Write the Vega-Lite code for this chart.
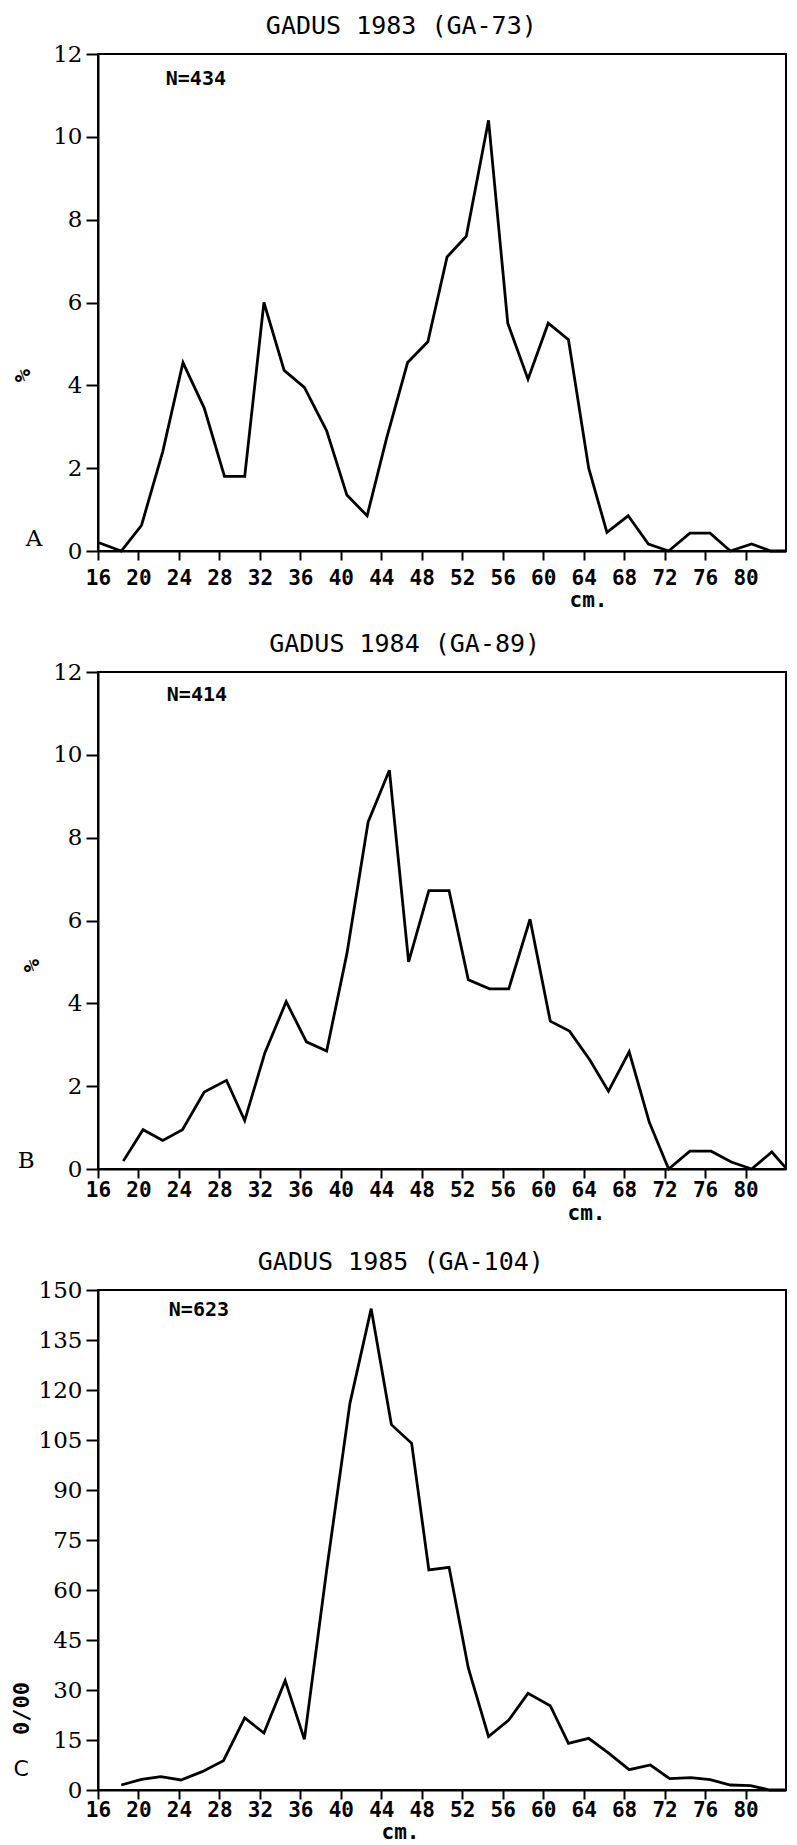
{
  "$schema": "https://vega.github.io/schema/vega-lite/v6.json",
  "background": "white",
  "padding": {"left": 9, "top": 13, "right": 0, "bottom": 0},
  "spacing": 121,
  "bounds": "flush",
  "datasets": {
    "gadus1983": [
      {"cm": 16.1, "pct": 0.2}, {"cm": 18.3, "pct": 0.0}, {"cm": 20.3, "pct": 0.62}, {"cm": 22.4, "pct": 2.4},
      {"cm": 24.4, "pct": 4.55}, {"cm": 26.5, "pct": 3.45}, {"cm": 28.5, "pct": 1.8}, {"cm": 30.5, "pct": 1.8},
      {"cm": 32.4, "pct": 6.0}, {"cm": 34.4, "pct": 4.36}, {"cm": 36.4, "pct": 3.95}, {"cm": 38.6, "pct": 2.9},
      {"cm": 40.6, "pct": 1.35}, {"cm": 42.6, "pct": 0.85}, {"cm": 44.5, "pct": 2.7}, {"cm": 46.6, "pct": 4.55},
      {"cm": 48.6, "pct": 5.05}, {"cm": 50.5, "pct": 7.1}, {"cm": 52.4, "pct": 7.6}, {"cm": 54.6, "pct": 10.4},
      {"cm": 56.5, "pct": 5.5}, {"cm": 58.5, "pct": 4.15}, {"cm": 60.5, "pct": 5.5}, {"cm": 62.5, "pct": 5.1},
      {"cm": 64.5, "pct": 2.0}, {"cm": 66.3, "pct": 0.45}, {"cm": 68.4, "pct": 0.85}, {"cm": 70.4, "pct": 0.17},
      {"cm": 72.4, "pct": 0.0}, {"cm": 74.5, "pct": 0.43}, {"cm": 76.5, "pct": 0.43}, {"cm": 78.5, "pct": 0.0},
      {"cm": 80.6, "pct": 0.17}, {"cm": 82.5, "pct": 0.0}, {"cm": 84.0, "pct": 0.0}
    ],
    "gadus1984": [
      {"cm": 18.5, "pct": 0.19}, {"cm": 20.45, "pct": 0.95}, {"cm": 22.4, "pct": 0.69}, {"cm": 24.35, "pct": 0.95},
      {"cm": 26.5, "pct": 1.86}, {"cm": 28.7, "pct": 2.14}, {"cm": 30.5, "pct": 1.17}, {"cm": 32.5, "pct": 2.81},
      {"cm": 34.6, "pct": 4.04}, {"cm": 36.6, "pct": 3.07}, {"cm": 38.6, "pct": 2.85}, {"cm": 40.6, "pct": 5.2},
      {"cm": 42.7, "pct": 8.38}, {"cm": 44.8, "pct": 9.63}, {"cm": 46.7, "pct": 5.0}, {"cm": 48.7, "pct": 6.72},
      {"cm": 50.7, "pct": 6.72}, {"cm": 52.6, "pct": 4.57}, {"cm": 54.7, "pct": 4.35}, {"cm": 56.6, "pct": 4.35},
      {"cm": 58.7, "pct": 6.03}, {"cm": 60.7, "pct": 3.57}, {"cm": 62.6, "pct": 3.33}, {"cm": 64.6, "pct": 2.64},
      {"cm": 66.45, "pct": 1.88}, {"cm": 68.5, "pct": 2.83}, {"cm": 70.5, "pct": 1.12}, {"cm": 72.4, "pct": 0.0},
      {"cm": 74.5, "pct": 0.43}, {"cm": 76.6, "pct": 0.43}, {"cm": 78.6, "pct": 0.17}, {"cm": 80.6, "pct": 0.0},
      {"cm": 82.6, "pct": 0.41}, {"cm": 84.0, "pct": 0.02}
    ],
    "gadus1985": [
      {"cm": 18.3, "permille": 1.5}, {"cm": 20.3, "permille": 3.2}, {"cm": 22.2, "permille": 4.0}, {"cm": 24.2, "permille": 3.0},
      {"cm": 26.3, "permille": 5.5}, {"cm": 28.4, "permille": 8.8}, {"cm": 30.5, "permille": 21.6}, {"cm": 32.4, "permille": 17.1},
      {"cm": 34.5, "permille": 32.8}, {"cm": 36.4, "permille": 15.2}, {"cm": 38.6, "permille": 66}, {"cm": 40.9, "permille": 116},
      {"cm": 43.0, "permille": 144.4}, {"cm": 45.0, "permille": 109.6}, {"cm": 47.0, "permille": 104}, {"cm": 48.7, "permille": 66},
      {"cm": 50.7, "permille": 66.8}, {"cm": 52.6, "permille": 36.6}, {"cm": 54.6, "permille": 16}, {"cm": 56.6, "permille": 21},
      {"cm": 58.5, "permille": 29}, {"cm": 60.7, "permille": 25.3}, {"cm": 62.5, "permille": 14}, {"cm": 64.5, "permille": 15.5},
      {"cm": 66.5, "permille": 11}, {"cm": 68.5, "permille": 6.1}, {"cm": 70.6, "permille": 7.5}, {"cm": 72.5, "permille": 3.4},
      {"cm": 74.6, "permille": 3.7}, {"cm": 76.5, "permille": 3.1}, {"cm": 78.5, "permille": 1.5}, {"cm": 80.5, "permille": 1.3},
      {"cm": 82.4, "permille": 0.0}, {"cm": 84.0, "permille": 0.0}
    ]
  },
  "vconcat": [
    {
      "title": {"text": "GADUS 1983 (GA-73)"},
      "width": 688,
      "height": 497,
      "layer": [
        {
          "data": {"name": "gadus1983"},
          "mark": {"type": "line", "color": "black", "strokeWidth": 2.8},
          "encoding": {
            "x": {"field": "cm", "type": "quantitative", "scale": {"domain": [16, 84], "nice": false, "zero": false},
                  "axis": {"values": [16, 20, 24, 28, 32, 36, 40, 44, 48, 52, 56, 60, 64, 68, 72, 76, 80], "title": "cm.", "labelPadding": 7, "titleX": 490, "titleY": 49}},
            "y": {"field": "pct", "type": "quantitative", "scale": {"domain": [0, 12], "nice": false},
                  "axis": {"values": [0, 2, 4, 6, 8, 10, 12], "title": "%", "titleX": -76, "titleY": 321}}
          }
        },
        {
          "data": {"values": [{}]},
          "mark": {"type": "text", "font": "DejaVu Sans Mono", "fontWeight": "bold", "fontSize": 20, "align": "left", "baseline": "middle", "color": "black"},
          "encoding": {"x": {"datum": 22.7}, "y": {"datum": 11.4}, "text": {"value": "N=434"}}
        },
        {
          "data": {"values": [{}]},
          "mark": {"type": "text", "font": "DejaVu Serif", "fontSize": 23, "align": "center", "baseline": "middle", "color": "black"},
          "encoding": {"x": {"datum": 9.67}, "y": {"datum": 0.3}, "text": {"value": "A"}}
        }
      ]
    },
    {
      "title": {"text": "GADUS 1984 (GA-89)"},
      "width": 688,
      "height": 497,
      "layer": [
        {
          "data": {"name": "gadus1984"},
          "mark": {"type": "line", "color": "black", "strokeWidth": 2.8},
          "encoding": {
            "x": {"field": "cm", "type": "quantitative", "scale": {"domain": [16, 84], "nice": false, "zero": false},
                  "axis": {"values": [16, 20, 24, 28, 32, 36, 40, 44, 48, 52, 56, 60, 64, 68, 72, 76, 80], "title": "cm.", "labelPadding": 1, "titleX": 488, "titleY": 44}},
            "y": {"field": "pct", "type": "quantitative", "scale": {"domain": [0, 12], "nice": false},
                  "axis": {"values": [0, 2, 4, 6, 8, 10, 12], "title": "%", "titleX": -67, "titleY": 293}}
          }
        },
        {
          "data": {"values": [{}]},
          "mark": {"type": "text", "font": "DejaVu Sans Mono", "fontWeight": "bold", "fontSize": 20, "align": "left", "baseline": "middle", "color": "black"},
          "encoding": {"x": {"datum": 22.8}, "y": {"datum": 11.45}, "text": {"value": "N=414"}}
        },
        {
          "data": {"values": [{}]},
          "mark": {"type": "text", "font": "DejaVu Serif", "fontSize": 23, "align": "center", "baseline": "middle", "color": "black"},
          "encoding": {"x": {"datum": 8.9}, "y": {"datum": 0.2}, "text": {"value": "B"}}
        }
      ]
    },
    {
      "title": {"text": "GADUS 1985 (GA-104)"},
      "width": 688,
      "height": 500,
      "layer": [
        {
          "data": {"name": "gadus1985"},
          "mark": {"type": "line", "color": "black", "strokeWidth": 2.8},
          "encoding": {
            "x": {"field": "cm", "type": "quantitative", "scale": {"domain": [16, 84], "nice": false, "zero": false},
                  "axis": {"values": [16, 20, 24, 28, 32, 36, 40, 44, 48, 52, 56, 60, 64, 68, 72, 76, 80], "title": "cm.", "labelPadding": 0, "titleX": 302, "titleY": 42}},
            "y": {"field": "permille", "type": "quantitative", "scale": {"domain": [0, 150], "nice": false},
                  "axis": {"values": [0, 15, 30, 45, 60, 75, 90, 105, 120, 135, 150], "title": "0/00", "titleX": -77, "titleY": 418}}
          }
        },
        {
          "data": {"values": [{}]},
          "mark": {"type": "text", "font": "DejaVu Sans Mono", "fontWeight": "bold", "fontSize": 20, "align": "left", "baseline": "middle", "color": "black"},
          "encoding": {"x": {"datum": 23.0}, "y": {"datum": 144}, "text": {"value": "N=623"}}
        },
        {
          "data": {"values": [{}]},
          "mark": {"type": "text", "font": "DejaVu Sans", "fontSize": 22, "align": "center", "baseline": "middle", "color": "black"},
          "encoding": {"x": {"datum": 8.4}, "y": {"datum": 6.3}, "text": {"value": "C"}}
        }
      ]
    }
  ],
  "config": {
    "view": {"stroke": "black", "strokeWidth": 2},
    "axis": {"domainColor": "black", "domainWidth": 2, "tickColor": "black", "tickWidth": 2, "grid": false, "labelColor": "black", "titleColor": "black"},
    "axisX": {"labelFont": "DejaVu Sans Mono", "labelFontWeight": "bold", "labelFontSize": 21, "tickSize": 9, "labelFlush": false, "labelOverlap": false,
              "titleFont": "DejaVu Sans Mono", "titleFontWeight": "bold", "titleFontSize": 21, "titleBaseline": "middle", "titleAlign": "center"},
    "axisY": {"labelFont": "DejaVu Serif", "labelFontSize": 23, "tickSize": 12, "labelPadding": 4, "labelOverlap": false,
              "titleFont": "DejaVu Sans Mono", "titleFontWeight": "bold", "titleFontSize": 22, "titleAngle": 270, "titleBaseline": "middle", "titleAlign": "center"},
    "title": {"font": "DejaVu Sans Mono", "fontSize": 25, "fontWeight": "normal", "color": "black", "frame": "bounds", "anchor": "middle", "offset": 0}
  }
}
